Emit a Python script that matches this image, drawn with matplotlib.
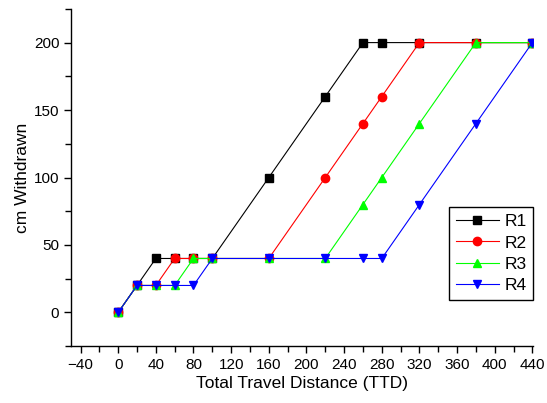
import numpy as np
import matplotlib
matplotlib.use("Agg")
import matplotlib.pyplot as plt
from matplotlib.ticker import MultipleLocator

plt.rcParams['font.family'] = ['Liberation Sans', 'DejaVu Sans']

# travel distance steps shared by all runs
ttd = [0, 20, 40, 60, 80, 100, 160, 220, 260, 280, 320, 380, 440]

# cm withdrawn per run
r1 = [0, 20, 40, 40, 40, 40, 100, 160, 200, 200, 200, 200, 200]
r2 = [0, 20, 20, 40, 40, 40, 40, 100, 140, 160, 200, 200, 200]
r3 = [0, 20, 20, 20, 40, 40, 40, 40, 80, 100, 140, 200, 200]
r4 = [0, 20, 20, 20, 20, 40, 40, 40, 40, 40, 80, 140, 200]

runs = [("R1", r1, "black", "s"),
        ("R2", r2, "red", "o"),
        ("R3", r3, "#00ff00", "^"),
        ("R4", r4, "blue", "v")]

fig = plt.figure(figsize=(5.47, 4.03), dpi=100)
ax = fig.add_axes([0.130, 0.141, 0.845, 0.837])

for name, vals, col, mk in runs:
    ax.plot(ttd, vals, color=col, marker=mk, markersize=6, linewidth=0.8,
            label=name)

ax.set_xlim(-50, 441)
ax.set_ylim(-25, 225)
ax.xaxis.set_major_locator(MultipleLocator(40))
ax.xaxis.set_minor_locator(MultipleLocator(20))
ax.yaxis.set_major_locator(MultipleLocator(50))
ax.yaxis.set_minor_locator(MultipleLocator(25))

ax.spines['top'].set_visible(False)
ax.spines['right'].set_visible(False)
ax.spines['left'].set_linewidth(1.0)
ax.spines['bottom'].set_linewidth(1.0)
ax.tick_params(which='major', direction='out', length=5, width=1.0,
               labelsize=11)
ax.tick_params(which='minor', direction='out', length=4, width=1.0)

ax.set_xlabel("Total Travel Distance (TTD)", fontsize=12.5, labelpad=3)
ax.set_ylabel("cm Withdrawn", fontsize=12.5, labelpad=3)

leg = ax.legend(loc='lower right', bbox_to_anchor=(1.0, 0.137),
                borderaxespad=0, fancybox=False, edgecolor='black',
                fontsize=12.5, handlelength=2.5, framealpha=1,
                labelspacing=0.35, handletextpad=0.3, borderpad=0.4)
leg.get_frame().set_linewidth(1.0)

fig.savefig("out.png", dpi=100)
